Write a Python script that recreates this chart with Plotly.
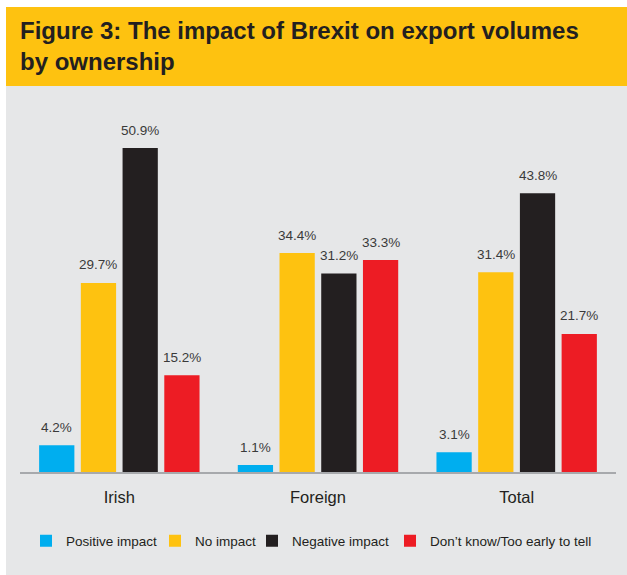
import plotly.graph_objects as go

categories = ["Irish", "Foreign", "Total"]
series_names = ["Positive impact", "No impact", "Negative impact", "Don\u2019t know/Too early to tell"]
positive = [4.2, 1.1, 3.1]
no_impact = [29.7, 34.4, 31.4]
negative = [50.9, 31.2, 43.8]
dont_know = [15.2, 33.3, 21.7]
colors = ["#00AEEF", "#FEC210", "#231F20", "#ED1C24"]

series_values = [positive, no_impact, negative, dont_know]

BARGAP = 0.16
BARGROUPGAP = 0.155

# layout geometry (pixels)
W, H = 627, 575
ml, mr, mt, mb = 20, 11, 100, 103
pw, ph = W - ml - mr, H - mt - mb

def px_x(x):
    return (x - ml) / pw

def px_y(y):
    return (H - mb - y) / ph

legend_ids = ["legend", "legend2", "legend3", "legend4"]
legend_left_px = [42, 171, 268, 406]

fig = go.Figure()
for name, vals, col, lid in zip(series_names, series_values, colors, legend_ids):
    fig.add_trace(go.Bar(x=categories, y=vals, name=name, marker=dict(color=col, line=dict(width=0)),
                         hoverinfo="skip", legend=lid))

# value labels above bars
n = len(series_values)
slot = (1 - BARGAP) / n
annotations = []
for i, vals in enumerate(series_values):
    for c, v in enumerate(vals):
        annotations.append(dict(x=c + (i - (n - 1) / 2) * slot, y=v, xref="x", yref="y",
                                text=f"{v:.1f}%", showarrow=False, yanchor="middle", yshift=18,
                                font=dict(family="Liberation Sans, Arial", size=13.5, color="#3a3a3a")))

shapes = [
    dict(type="rect", xref="paper", yref="paper", x0=px_x(6), x1=px_x(W + 2), y0=px_y(86), y1=px_y(H + 2),
         fillcolor="#E6E7E8", line=dict(width=0), layer="below"),
    dict(type="rect", xref="paper", yref="paper", x0=px_x(6), x1=px_x(W + 2), y0=px_y(7), y1=px_y(86),
         fillcolor="#FEC210", line=dict(width=0), layer="below"),
]

annotations.append(dict(xref="paper", yref="paper", x=px_x(18), y=px_y(15), xanchor="left", yanchor="top",
                        align="left", showarrow=False,
                        text="<b>Figure 3: The impact of Brexit on export volumes<br>by ownership</b>",
                        font=dict(family="Liberation Sans, Arial", size=24, color="#231F20")))

legend_common = dict(orientation="h", yanchor="middle", y=px_y(541), xanchor="left",
                     font=dict(family="Liberation Sans, Arial", size=13.5, color="#231F20"),
                     bgcolor="rgba(0,0,0,0)", itemclick=False, itemdoubleclick=False)
legend_layout = {lid: dict(legend_common, x=px_x(lx - 16)) for lid, lx in zip(legend_ids, legend_left_px)}

fig.update_layout(
    width=W, height=H,
    margin=dict(l=ml, r=mr, t=mt, b=mb),
    paper_bgcolor="white",
    plot_bgcolor="rgba(0,0,0,0)",
    barmode="group", bargap=BARGAP, bargroupgap=BARGROUPGAP,
    shapes=shapes,
    annotations=annotations,
    showlegend=True,
    xaxis=dict(showline=True, linecolor="#A7A9AC", linewidth=1.5, showgrid=False, zeroline=False,
               ticks="outside", ticklen=9, tickcolor="rgba(0,0,0,0)",
               tickfont=dict(family="Liberation Sans, Arial", size=16.5, color="#231F20"), fixedrange=True),
    yaxis=dict(range=[0, ph / 6.365], visible=False, showgrid=False, zeroline=False, fixedrange=True),
    **legend_layout,
)

fig.write_html("out.html", config={"displayModeBar": False})
